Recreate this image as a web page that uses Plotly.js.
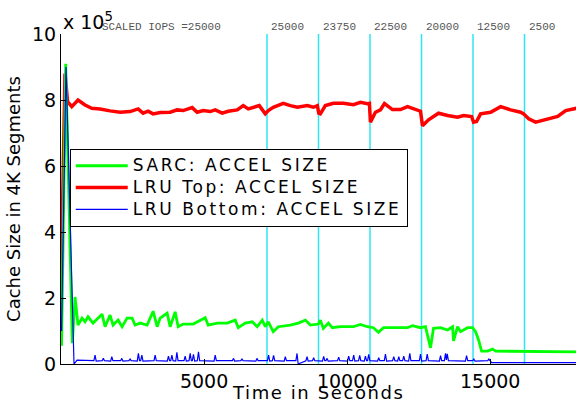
<!DOCTYPE html>
<html>
<head>
<meta charset="utf-8">
<script src="https://cdn.plot.ly/plotly-3.0.1.min.js"></script>
<style>
html,body{margin:0;padding:0;background:#fff}
#chart{width:576px;height:405px}
</style>
</head>
<body>
<div id="chart"></div>
<script>
// Time (s) and cache size (x 1e5 4K segments)
const sarcT = [20,165,395,490,595,735,840,945,1120,1295,1435,1540,1715,1820,1995,2135,2310,2485,2590,2765,3010,3220,3360,3465,3710,3815,3990,4095,4270,4620,5040,5145,5460,5810,6090,6195,6440,6685,6860,7035,7140,7245,7420,7595,8015,8295,8540,8715,8995,9065,9170,9345,9485,9765,10220,10465,10710,10920,11095,11270,11620,12110,12285,12565,12740,12915,13020,13265,13510,13685,13720,13860,13965,14210,14385,14490,14595,14700,14910,15085,15190,16065,18025];
const sarcV = [0.55,9.1,0.63,2.03,1.18,1.39,1.28,1.43,1.24,1.39,1.51,1.13,1.48,1.18,1.33,1.13,1.39,1.39,1.18,1.24,1.18,1.6,1.13,1.39,1.54,1.13,1.58,1.13,1.21,1.21,1.4,1.18,1.24,1.24,1.33,1.1,1.24,1.28,1.13,1.33,1.13,1.28,0.98,1.13,1.18,1.24,1.33,1.18,1.21,1.33,1.08,1.24,1.1,1.13,1.13,1.2,1.13,1.1,0.96,1.1,1.1,1.1,1.16,1.1,1.13,0.49,1.08,1.1,1.03,1.13,0.7,1.13,0.98,1.1,1.1,0.98,0.73,0.39,0.39,0.45,0.39,0.39,0.37];

const topT = [0,140,230,375,595,840,1075,1365,1715,2065,2415,2695,2870,3045,3220,3465,3815,4060,4270,4585,4760,4970,5215,5390,5635,5845,6160,6370,6545,6720,6930,7140,7245,7420,7770,8015,8260,8610,8820,8960,9010,9065,9240,9520,9870,10220,10465,10710,10780,10815,10990,11165,11305,11585,11865,12110,12320,12565,12635,12845,13195,13510,13860,14070,14350,14420,14525,14665,15015,15365,15715,16065,16170,16345,16590,17010,17360,17640,17920,18025];
const topV = [2.2,8.8,7.95,7.8,8.0,7.85,7.75,7.73,7.67,7.63,7.65,7.73,7.6,7.66,7.58,7.62,7.63,7.7,7.68,7.77,7.63,7.68,7.65,7.7,7.6,7.66,7.7,7.83,7.73,7.77,7.83,7.58,7.68,7.78,7.9,7.83,7.78,7.83,7.78,7.83,7.6,7.58,7.83,7.9,7.9,7.86,7.93,7.89,7.9,7.33,7.63,7.7,7.89,7.71,7.71,7.8,7.73,7.66,7.22,7.4,7.6,7.53,7.48,7.53,7.5,7.33,7.35,7.58,7.63,7.8,7.7,7.63,7.58,7.43,7.33,7.43,7.5,7.68,7.73,7.75];

const botT = [20,175,455,560,
 1150,1190,1230, 1440,1480,1520, 1735,1775,1815, 2085,2125,2165, 2375,2415,2455, 2665,2705,2745, 2785,2825,2865, 3250,3290,3330, 3715,3755,3795, 3835,3875,3915,
 4010,4050,4090, 4300,4340,4380, 4475,4515,4555, 4590,4630,4670, 4765,4805,4845, 5350,5390,5430, 5990,6030,6070, 6285,6325,6365, 6810,6850,6890, 7215,7255,7295,
 7390,7430,7470, 7800,7840,7880, 8210,8250,8290, 8560,8600,8640, 8790,8830,8870, 9140,9180,9220, 9260,9300,9340, 9665,9705,9745, 10015,10055,10095, 10190,10230,10270,
 10400,10440,10480, 10600,10640,10680, 10715,10755,10795, 11065,11105,11145, 11300,11340,11380, 11590,11630,11670, 11765,11805,11845, 11940,11980,12020, 12150,12190,12230, 12525,12565,12605,
 12760,12800,12840, 13225,13265,13305, 13400,13440,13470,13500,13540, 14135,14175,14215, 14390,14430,14470, 14915,14955,14995, 15050, 18025];
const botV = [1.0,9.0,0.0,0.12,
 0.1,0.27,0.09, 0.1,0.17,0.1, 0.09,0.22,0.1, 0.1,0.17,0.09, 0.1,0.15,0.1, 0.09,0.32,0.1, 0.1,0.27,0.09, 0.1,0.27,0.1, 0.09,0.24,0.1, 0.1,0.27,0.1,
 0.09,0.35,0.1, 0.1,0.24,0.09, 0.1,0.32,0.1, 0.1,0.29,0.09, 0.1,0.37,0.1, 0.09,0.27,0.1, 0.1,0.17,0.09, 0.1,0.15,0.1, 0.09,0.17,0.1, 0.1,0.27,0.09,
 0.1,0.26,0.1, 0.09,0.22,0.1, 0.1,0.32,0.0, 0.1,0.22,0.09, 0.1,0.19,0.1, 0.09,0.23,0.1, 0.1,0.17,0.09, 0.1,0.21,0.1, 0.09,0.24,0.1, 0.1,0.27,0.09,
 0.1,0.26,0.1, 0.09,0.24,0.1, 0.1,0.29,0.1, 0.09,0.19,0.1, 0.1,0.30,0.09, 0.1,0.22,0.1, 0.09,0.22,0.1, 0.1,0.24,0.1, 0.09,0.32,0.1, 0.1,0.30,0.09,
 0.1,0.30,0.1, 0.09,0.25,0.1, 0.1,0.32,0.12,0.31,0.1, 0.09,0.25,0.1, 0.1,0.15,0.09, 0.1,0.15,0.1, 0.04, 0.04];

// IOPS change markers
const markT = [7200, 9000, 10800, 12600, 14400, 16200];
const labelT = [1300, 7200, 9000, 10800, 12600, 14400, 16200];
const labelText = ["SCALED IOPS =25000", "25000", "23750", "22500", "20000", "12500", "2500"];

const seriesNames = ["SARC: ACCEL SIZE", "LRU Top: ACCEL SIZE", "LRU Bottom: ACCEL SIZE"];

const xTicks = [5000, 10000, 15000];
const yTicks = [0, 2, 4, 6, 8, 10];

const F = "DejaVu Sans, Arial, sans-serif";
const wide = s => '<span style="font-size:17px;letter-spacing:2.6px">' + s + '</span>';

const traces = [
  {x: topT, y: topV, type: "scatter", mode: "lines", name: wide(seriesNames[1]),
   line: {color: "#ff0000", width: 3.5}, legendrank: 2},
  {x: sarcT, y: sarcV, type: "scatter", mode: "lines", name: wide(seriesNames[0]),
   line: {color: "#00ff00", width: 2.8}, legendrank: 1},
  {x: botT, y: botV, type: "scatter", mode: "lines", name: wide(seriesNames[2]),
   line: {color: "#0000ff", width: 1.2}, legendrank: 3}
];

const shapes = markT.map(t => ({
  type: "line", xref: "x", yref: "y", x0: t, x1: t, y0: 0, y1: 10,
  line: {color: "#2ee6f2", width: 1.5}, layer: "below"
}));

const annotations = labelT.map((t, i) => ({
  x: t, y: 1.022, xref: "x", yref: "paper", text: labelText[i], showarrow: false,
  xanchor: "left", yanchor: "middle", xshift: 2,
  font: {family: "Liberation Mono, Courier New, monospace", size: 11, color: "#555555"}
}));
annotations.push({
  x: 0, y: 1.04, xref: "paper", yref: "paper", text: "x 10<sup>5</sup>", showarrow: false,
  xanchor: "left", yanchor: "middle", font: {family: F, size: 19, color: "#000"}
});
annotations.push({
  x: 0.5, y: -0.124, xref: "paper", yref: "paper",
  text: '<span style="letter-spacing:1.6px">Time in Seconds</span>', showarrow: false,
  xanchor: "center", yanchor: "bottom", font: {family: F, size: 18, color: "#000"}
});

const layout = {
  width: 576, height: 405,
  margin: {l: 61, r: 0, t: 34, b: 41},
  paper_bgcolor: "#fff", plot_bgcolor: "#fff",
  font: {family: F, color: "#000"},
  showlegend: true,
  legend: {x: 0.017, y: 0.652, xanchor: "left", yanchor: "top",
           bgcolor: "#fff", bordercolor: "#000", borderwidth: 1,
           font: {family: F, size: 14.5, color: "#000"}, itemwidth: 52, tracegroupgap: 0},
  xaxis: {range: [0, 18000], tickvals: xTicks, ticktext: xTicks.map(String),
          ticks: "inside", ticklen: 5, tickcolor: "#000", showline: true, linecolor: "#000", linewidth: 1,
          showgrid: false, zeroline: false, tickfont: {family: F, size: 19}},
  yaxis: {range: [0, 10], tickvals: yTicks, ticktext: yTicks.map(String),
          ticks: "inside", ticklen: 5, tickcolor: "#000", showline: true, linecolor: "#000", linewidth: 1,
          showgrid: false, zeroline: false, tickfont: {family: F, size: 19},
          title: {text: "Cache Size in 4K Segments", font: {family: F, size: 18}, standoff: 6}},
  shapes: shapes,
  annotations: annotations
};

Plotly.newPlot("chart", traces, layout, {displayModeBar: false, staticPlot: true});
</script>
</body>
</html>
